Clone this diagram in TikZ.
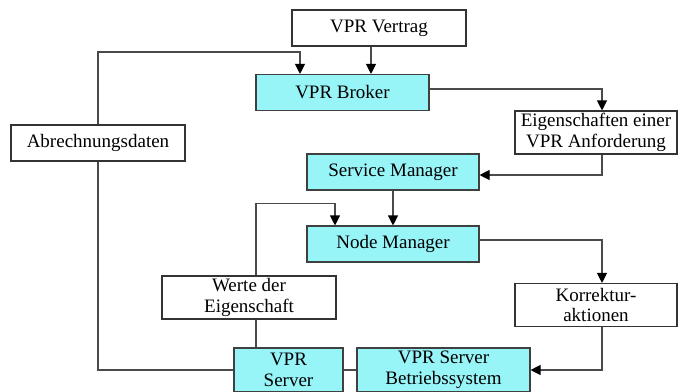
\documentclass[tikz,border=0pt]{standalone}
\usepackage{fontspec}
\setmainfont{Liberation Serif}
\usepackage{xcolor}
\usetikzlibrary{positioning, arrows.meta}
\definecolor{vprcyan}{HTML}{97F4F7}
\definecolor{vprline}{HTML}{4A4A4A}

\begin{document}
\begin{tikzpicture}[x=1pt, y=-1pt, line width=1.1pt,
    box/.style={draw=black!80, fill=white, inner sep=0pt, align=center,
      font=\fontsize{19}{20.5}\selectfont},
    cbox/.style={box, fill=vprcyan, draw=black!75},
    arr/.style={draw=vprline, -{Triangle[length=10pt, width=10pt, color=black]}},
    lin/.style={draw=vprline}]
  \clip (0,0) rectangle (679,391);
  \useasboundingbox (0,0) rectangle (679,391);
  % boxes
  \node[box, minimum width=174pt, minimum height=36pt] (vertrag) at (379,28) {VPR Vertrag};
  \node[cbox, minimum width=173pt, minimum height=36pt] (broker) at (342.5,92.5) {VPR Broker};
  \node[box, minimum width=162pt, minimum height=43pt] (eig) at (596,132.5) {Eigenschaften einer\\VPR Anforderung};
  \node[box, minimum width=174pt, minimum height=36pt] (abr) at (98,143) {Abrechnungsdaten};
  \node[cbox, minimum width=172pt, minimum height=36pt] (sm) at (393,172) {Service Manager};
  \node[cbox, minimum width=172pt, minimum height=36pt] (nm) at (393,244) {Node Manager};
  \node[box, minimum width=174pt, minimum height=43pt] (werte) at (249,297.5) {Werte der\\Eigenschaft};
  \node[box, minimum width=162pt, minimum height=43pt] (korr) at (596,305) {Korrektur-\\aktionen};
  \node[cbox, minimum width=109pt, minimum height=44pt] (server) at (288.5,370) {VPR\\Server};
  \node[cbox, minimum width=173pt, minimum height=44pt] (bs) at (443.5,370) {VPR Server\\Betriebssystem};
  % connectors
  \draw[arr] ([xshift=-8pt]vertrag.south) -- ([xshift=-8pt]vertrag.south |- broker.north);
  \draw[arr] (abr.north) |- ([xshift=-42.5pt, yshift=22pt]broker.north) -- ([xshift=-42.5pt]broker.north);
  \draw[arr] ([yshift=3.5pt]broker.east) -| ([xshift=6pt]eig.north);
  \draw[arr] ([xshift=6pt]eig.south) |- ([yshift=-3pt]sm.east);
  \draw[arr] (sm.south) -- (nm.north);
  \draw[arr] ([xshift=7pt]werte.north) |- ([xshift=-58pt, yshift=22pt]nm.north) -- ([xshift=-58pt]nm.north);
  \draw[lin] ([xshift=7pt]werte.south) -- ([xshift=7pt]werte.south |- server.north);
  \draw[arr] ([yshift=4pt]nm.east) -| ([xshift=6pt]korr.north);
  \draw[arr] ([xshift=6pt]korr.south) |- (bs.east);
  \draw[lin] (abr.south) |- (server.west);
  \draw[lin] (server.east) -- (bs.west);
\end{tikzpicture}
\end{document}
